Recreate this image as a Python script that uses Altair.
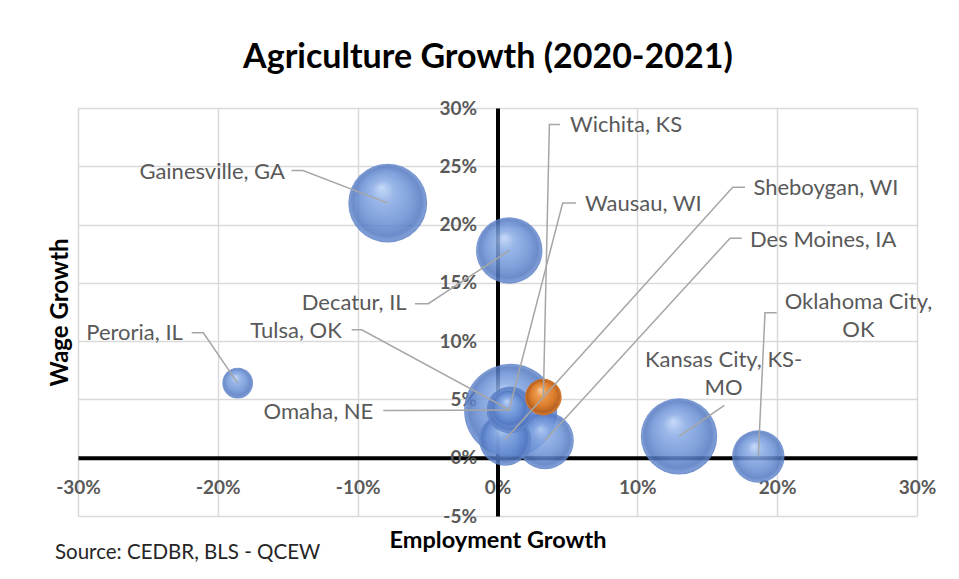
import altair as alt
import pandas as pd

FONT = "Lato"

# ---------------- data ----------------
cities = ["Gainesville, GA", "Peroria, IL", "Decatur, IL", "Kansas City, KS-MO",
          "Oklahoma City, OK", "Tulsa, OK", "Des Moines, IA", "Sheboygan, WI",
          "Omaha, NE", "Wausau, WI", "Wichita, KS"]
label_text = ["Gainesville, GA", "Peroria, IL", "Decatur, IL", "Kansas City, KS-\nMO",
              "Oklahoma City,\nOK", "Tulsa, OK", "Des Moines, IA", "Sheboygan, WI",
              "Omaha, NE", "Wausau, WI", "Wichita, KS"]
emp_growth = [-0.0785, -0.1858, 0.0084, 0.1298, 0.1865, 0.0094, 0.0340, 0.0054, 0.0090, 0.0085, 0.0328]
wage_growth = [0.2184, 0.0640, 0.1778, 0.0183, 0.0011, 0.0406, 0.0148, 0.0154, 0.0410, 0.0420, 0.0520]
bubble_size = [79, 12, 56, 74, 35, 110, 42, 34, 28, 18, 17]
highlight = [False, False, False, False, False, False, False, False, False, False, True]

# label anchor (data units, first line centre) and alignment
label_x = [-0.1520, -0.2250, -0.0650, 0.1617, 0.2581, -0.1114, 0.1806, 0.1830, -0.0888, 0.0626, 0.0519]
label_y = [0.2455, 0.1066, 0.1323, 0.0840, 0.1340, 0.1086, 0.1864, 0.2316, 0.0391, 0.2177, 0.2850]
label_align = ["right", "right", "right", "center", "center", "right", "left", "left", "right", "left", "left"]

# leader line: start near label, elbow, then bubble centre
lead_x1 = [-0.1474, -0.2187, -0.0590, 0.1622, 0.1997, -0.1043, 0.1747, 0.1770, -0.0817, 0.0562, 0.0447]
lead_y1 = [0.2464, 0.1072, 0.1321, 0.0449, 0.1244, 0.1098, 0.1883, 0.2321, 0.0406, 0.2184, 0.2859]
lead_x2 = [-0.1391, -0.2104, -0.0495, 0.1622, 0.1913, -0.0971, 0.1663, 0.1682, -0.0733, 0.0466, 0.0371]
lead_y2 = [0.2464, 0.1072, 0.1321, 0.0449, 0.1244, 0.1098, 0.1883, 0.2321, 0.0406, 0.2184, 0.2859]

x_ticks = [-0.3, -0.2, -0.1, 0.0, 0.1, 0.2, 0.3]
y_ticks = [-0.05, 0.0, 0.05, 0.1, 0.15, 0.2, 0.25, 0.3]

# ---------------- tables ----------------
bub = pd.DataFrame({"city": cities, "x": emp_growth, "y": wage_growth,
                    "size": bubble_size, "hl": highlight})
lab = pd.DataFrame({"city": cities, "text": label_text, "x": label_x, "y": label_y,
                    "align": label_align})
rows = []
for i, c in enumerate(cities):
    rows.append({"city": c, "o": 0, "x": lead_x1[i], "y": lead_y1[i]})
    rows.append({"city": c, "o": 1, "x": lead_x2[i], "y": lead_y2[i]})
    rows.append({"city": c, "o": 2, "x": emp_growth[i], "y": wage_growth[i]})
lead = pd.DataFrame(rows)

W, H = 839, 408
x_off = -W / 2.0
y_off = -H * 5.0 / 35.0

x_axis = alt.Axis(values=x_ticks, format=".0%", labelExpr="replace(datum.label, '\u2212', '-')",
                  grid=True, gridColor="#d9d9d9", gridWidth=1.5,
                  domainColor="#000000", domainWidth=4, ticks=False,
                  labelPadding=21, labelFont=FONT, labelFontSize=19, labelFontWeight="bold",
                  labelColor="#595959", labelFlush=False, labelOverlap=False,
                  offset=y_off, title="Employment Growth", titleFont=FONT, titleFontSize=23.5,
                  titleFontWeight="bold", titleColor="#000000",
                  titleX=W / 2.0, titleY=83, titleAlign="center", titleBaseline="middle")
y_axis = alt.Axis(values=y_ticks, format=".0%", labelExpr="replace(datum.label, '\u2212', '-')",
                  grid=True, gridColor="#d9d9d9", gridWidth=1.5,
                  domainColor="#000000", domainWidth=4, ticks=False,
                  labelPadding=21, labelFont=FONT, labelFontSize=19, labelFontWeight="bold",
                  labelColor="#595959", labelOverlap=False, labelFlush=False,
                  offset=x_off, title="Wage Growth", titleFont=FONT, titleFontSize=24,
                  titleFontWeight="bold", titleColor="#000000",
                  titleX=x_off - 18, titleY=204, titleAngle=270,
                  titleAlign="center", titleBaseline="middle")

xs = alt.Scale(domain=[-0.3, 0.3], nice=False, zero=False)
ys = alt.Scale(domain=[-0.05, 0.3], nice=False, zero=False)
X = alt.X("x:Q", scale=xs, axis=x_axis)
Y = alt.Y("y:Q", scale=ys, axis=y_axis)
S = alt.Size("size:Q", scale=alt.Scale(type="linear", domain=[0, 110], range=[0, 8659]), legend=None)

blue = alt.RadialGradient(gradient="radial", x1=0.42, y1=0.30, r1=0.0, x2=0.5, y2=0.5, r2=0.5,
                          stops=[alt.GradientStop(offset=0.0, color="#bcd4f7"),
                                 alt.GradientStop(offset=0.28, color="#87a9e4"),
                                 alt.GradientStop(offset=0.65, color="#678ed4"),
                                 alt.GradientStop(offset=0.88, color="#5075bf"),
                                 alt.GradientStop(offset=0.96, color="#678cd0"),
                                 alt.GradientStop(offset=1.0, color="#5276be")])
orange = alt.RadialGradient(gradient="radial", x1=0.42, y1=0.30, r1=0.0, x2=0.5, y2=0.5, r2=0.5,
                            stops=[alt.GradientStop(offset=0.0, color="#fdd3a3"),
                                   alt.GradientStop(offset=0.28, color="#f29a45"),
                                   alt.GradientStop(offset=0.65, color="#e07a22"),
                                   alt.GradientStop(offset=0.88, color="#b95e18"),
                                   alt.GradientStop(offset=0.96, color="#d87a2e"),
                                   alt.GradientStop(offset=1.0, color="#c86a22")])

blue_b = alt.Chart(bub).transform_filter("!datum.hl").mark_circle(
    fill=blue, opacity=0.84).encode(x=X, y=Y, size=S)
orange_b = alt.Chart(bub).transform_filter("datum.hl").mark_circle(
    fill=orange, opacity=0.95).encode(x=X, y=Y, size=S)

leaders = alt.Chart(lead).mark_line(color="#a6a6a6", strokeWidth=1.5).encode(
    x=X, y=Y, detail="city:N", order="o:Q")


def labels(al):
    return alt.Chart(lab).transform_filter(alt.datum.align == al).mark_text(
        align=al, baseline="middle", font=FONT, fontSize=22, color="#595959",
        lineBreak="\n", lineHeight=28).encode(x=X, y=Y, text="text:N")


layer = alt.layer(blue_b, orange_b, leaders, labels("right"), labels("left"),
                  labels("center")).properties(
    width=W, height=H,
    title=alt.TitleParams("Source: CEDBR, BLS - QCEW", orient="bottom", anchor="start",
                          frame="bounds", font=FONT, fontSize=20.5, fontWeight="normal",
                          color="#262626", dx=7, offset=0, dy=-9))

chart = alt.vconcat(layer).properties(
    title=alt.TitleParams("Agriculture Growth (2020-2021)", font=FONT, fontSize=34,
                          fontWeight="bold", color="#000000", anchor="middle", offset=24,
                          dx=-4),
    padding={"left": 40, "top": 33, "right": 10, "bottom": 0}
).configure_view(strokeWidth=0)

chart.save("out.html", embed_options={"renderer": "svg", "actions": False})
